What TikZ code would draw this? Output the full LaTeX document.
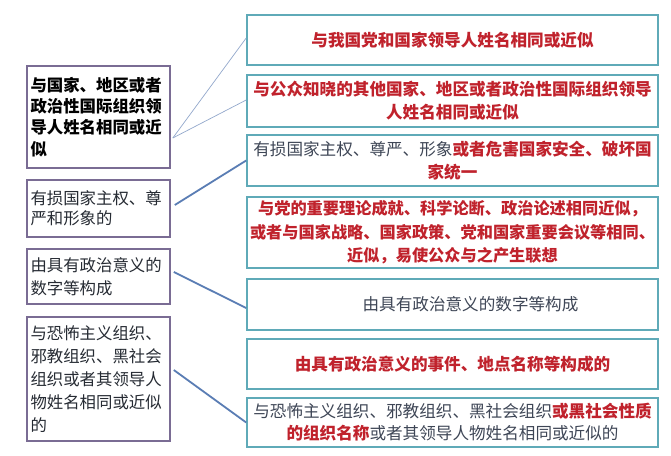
\documentclass[tikz,border=0pt]{standalone}
\usepackage{fontspec}
\setmainfont{Noto Sans CJK SC}
\begin{document}
\begin{tikzpicture}[x=1pt,y=-1pt,
  lbox/.style={draw=lborder,line width=1.6pt,inner sep=0pt,align=left,text=black},
  rbox/.style={draw=rborder,line width=1.6pt,inner sep=0pt,align=center,text=grayt},
  rfont/.style={font=\fontsize{16.6}{23}\selectfont},
  thinlink/.style={draw=thinc,line width=0.7pt},
  thicklink/.style={draw=thickc,line width=1.8pt}]
\definecolor{lborder}{HTML}{7A6C94}
\definecolor{rborder}{HTML}{5FAAB8}
\definecolor{thinc}{HTML}{93A8CC}
\definecolor{thickc}{HTML}{5A7DB4}
\definecolor{redt}{HTML}{C0222C}
\definecolor{grayt}{HTML}{3E4656}
\definecolor{leftt}{HTML}{262B33}
\newcommand{\rt}[1]{\textcolor{redt}{\bfseries #1}}
\useasboundingbox[fill=white] (0,0) rectangle (671,455);
% left boxes
\node[lbox,minimum width=143pt,minimum height=102pt] (L1) at (98.5,117)
 {\parbox{136pt}{\fontsize{16.4}{21.2}\selectfont\bfseries 与国家、地区或者\\政治性国际组织领\\导人姓名相同或近\\似}};
\node[lbox,minimum width=143pt,minimum height=57pt] (L2) at (98.5,208.5)
 {\parbox{136pt}{\fontsize{16.4}{20}\selectfont\color{leftt}有损国家主权、尊\\严和形象的}};
\node[lbox,minimum width=143pt,minimum height=55pt] (L3) at (98.5,276.5)
 {\parbox{136pt}{\fontsize{16.4}{23}\selectfont\color{leftt}由具有政治意义的\\数字等构成}};
\node[lbox,minimum width=143pt,minimum height=124pt] (L4) at (98.5,379)
 {\parbox{136pt}{\fontsize{16.4}{23}\selectfont\color{leftt}与恐怖主义组织、\\邪教组织、黑社会\\组织或者其领导人\\物姓名相同或近似\\的}};
% right boxes
\node[rbox,rfont,minimum width=411pt,minimum height=50pt] (R1) at (452.5,40)
 {\rt{与我国党和国家领导人姓名相同或近似}};
\node[rbox,rfont,minimum width=411pt,minimum height=52pt] (R2) at (452.5,101)
 {\rt{与公众知晓的其他国家、地区或者政治性国际组织领导}\\\rt{人姓名相同或近似}};
\node[rbox,rfont,minimum width=411pt,minimum height=51pt] (R3) at (452.5,160.5)
 {有损国家主权、尊严、形象\rt{或者危害国家安全、破坏国}\\\rt{家统一}};
\node[rbox,font=\fontsize{16.2}{23.5}\selectfont,minimum width=411pt,minimum height=71pt] (R4) at (452.5,232.5)
 {\rt{与党的重要理论成就、科学论断、政治论述相同近似，}\\\rt{或者与国家战略、国家政策、党和国家重要会议等相同、}\\\rt{近似，易使公众与之产生联想}};
\node[rbox,rfont,minimum width=411pt,minimum height=51pt] (R5) at (452.5,304.5)
 {\hspace*{36pt}由具有政治意义的数字等构成};
\node[rbox,rfont,minimum width=411pt,minimum height=50pt] (R6) at (452.5,364)
 {\rt{由具有政治意义的事件、地点名称等构成的}};
\node[rbox,font=\fontsize{16.6}{22}\selectfont,minimum width=411pt,minimum height=49pt] (R7) at (452.5,422.5)
 {与恐怖主义组织、邪教组织、黑社会组织\rt{或黑社会性质}\\\rt{的组织名称}或者其领导人物姓名相同或近似的};
% connectors
\coordinate (a1) at ([shift={(2pt,-21pt)}]L1.east);
\draw[thinlink] (a1) -- ([yshift=2pt]R1.west);
\draw[thinlink] (a1) -- ([yshift=1pt]R2.west);
\draw[thicklink] ([shift={(4pt,3.5pt)}]L2.east) -- (R3.west);
\draw[thicklink] ([shift={(3pt,4.5pt)}]L3.east) -- ([yshift=-3.5pt]R5.west);
\draw[thicklink] ([shift={(3pt,9pt)}]L4.east) -- (R7.west);
\end{tikzpicture}
\end{document}
